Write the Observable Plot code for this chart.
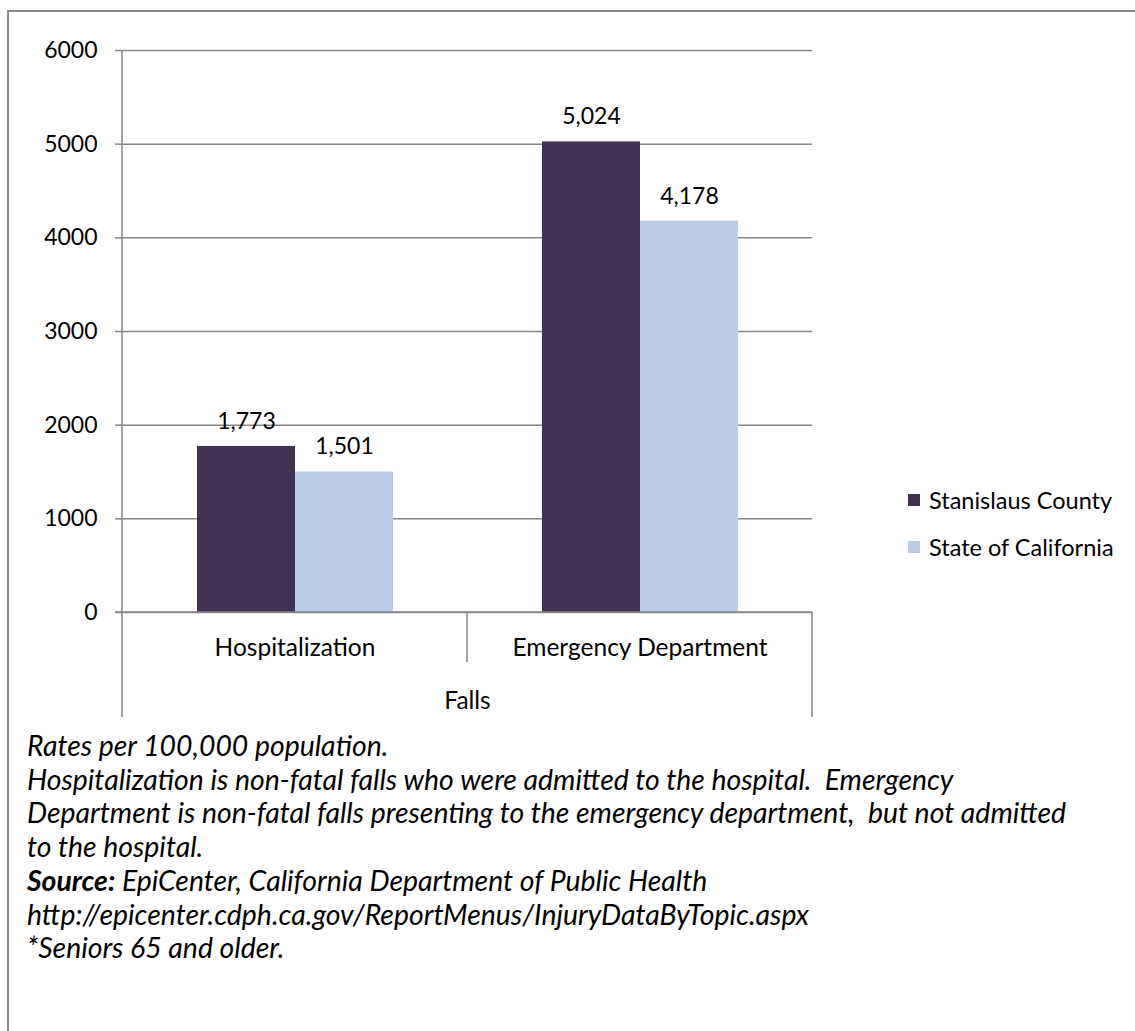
<!DOCTYPE html>
<html>
<head>
<meta charset="utf-8">
<script src="https://cdn.jsdelivr.net/npm/d3@7"></script>
<script src="https://cdn.jsdelivr.net/npm/@observablehq/plot@0.6"></script>
<style>
  html, body { margin: 0; padding: 0; background: #fff; }
  body { font-family: Lato, "Open Sans", sans-serif; }
  #page { position: relative; width: 1135px; height: 1031px; overflow: hidden; }
  #border { position: absolute; left: 7px; top: 10px; width: 1140px; height: 1040px;
            border-left: 2px solid #8a8a8a; border-top: 2px solid #8a8a8a; }
  #chart { position: absolute; left: 0; top: 0; }
  #legend { position: absolute; left: 908px; top: 485px; font-size: 23.5px; color: #000; }
  #legend .item { display: flex; align-items: center; height: 30px; margin-bottom: 17px; }
  #legend .sw { width: 12px; height: 12px; margin-right: 9px; }
  #caption { position: absolute; left: 27px; top: 729px; font-size: 28.4px; font-style: italic;
             line-height: 33.7px; color: #000; white-space: nowrap; }
</style>
</head>
<body>
<div id="page">
  <div id="border"></div>
  <div id="chart"></div>
  <div id="legend"></div>
  <div id="caption"></div>
</div>
<script>
const categories = ["Hospitalization", "Emergency Department"];
const series = ["Stanislaus County", "State of California"];
const stanislausValues = [1773, 5024];
const californiaValues = [1501, 4178];
const seriesColors = ["#403151", "#b9cde5"];
const yTicks = [0, 1000, 2000, 3000, 4000, 5000, 6000];
const groupLabel = "Falls";
const captionLines = [
  "Rates per 100,000 population.",
  "Hospitalization is non-fatal falls who were admitted to the hospital.&nbsp; Emergency",
  "Department is non-fatal falls presenting to the emergency department,&nbsp; but not admitted",
  "to the hospital.",
  "<b>Source:</b> EpiCenter, California Department of Public Health",
  "http://epicenter.cdph.ca.gov/ReportMenus/InjuryDataByTopic.aspx",
  "*Seniors 65 and older."
];

const data = [];
categories.forEach((c, i) => {
  data.push({category: c, series: series[0], value: stanislausValues[i]});
  data.push({category: c, series: series[1], value: californiaValues[i]});
});

const gridColor = "#868686";
const fontFamily = "Lato, 'Open Sans', sans-serif";

const chart = Plot.plot({
  width: 1135,
  height: 730,
  marginLeft: 122,
  marginRight: 323,
  marginTop: 50,
  marginBottom: 118,
  style: {fontFamily, fontSize: "23px", color: "#000", background: "transparent", overflow: "visible"},
  fx: {domain: categories, padding: 0},
  x: {domain: series, paddingInner: 0, paddingOuter: 0.75, axis: null},
  y: {domain: [0, 6000]},
  color: {domain: series, range: seriesColors},
  marks: [
    Plot.ruleY(yTicks, {stroke: gridColor, strokeWidth: 1.5}),
    Plot.barY(data, {fx: "category", x: "series", y: "value", fill: "series"}),
    Plot.text(data, {fx: "category", x: "series", y: "value",
      text: d => d3.format(",")(d.value), dy: -25, fontSize: 23, fill: "#000"}),
    Plot.axisY({ticks: yTicks, tickSize: 7, tickPadding: 18, tickFormat: d => String(d),
      stroke: gridColor, strokeWidth: 1.5, fill: "#000", fontSize: 23, label: null}),
    Plot.axisFx({anchor: "bottom", tickSize: 0, tickPadding: 26, fontSize: 24.5, fill: "#000",
      label: groupLabel, labelAnchor: "center", labelOffset: 96})
  ]
});
document.getElementById("chart").appendChild(chart);

// Category axis divider lines and the value axis line, positioned via Plot's scales
const fx = chart.scale("fx");
const y = chart.scale("y");
const svg = d3.select(chart.tagName.toLowerCase() === "svg" ? chart : chart.querySelector("svg"));
const y0 = y.apply(0), yTop = y.apply(6000);
const step = (fx.range[1] - fx.range[0]) / categories.length;
const g = svg.append("g").attr("stroke", gridColor).attr("stroke-width", 1.5);
g.append("line").attr("x1", fx.range[0]).attr("x2", fx.range[0]).attr("y1", yTop).attr("y2", y0 + 105);
g.append("line").attr("x1", fx.range[0] - 7).attr("x2", fx.range[1]).attr("y1", y0).attr("y2", y0);
for (let i = 1; i <= categories.length; i++) {
  const xx = fx.range[0] + i * step;
  const outer = i === categories.length;
  g.append("line").attr("x1", xx).attr("x2", xx).attr("y1", y0).attr("y2", y0 + (outer ? 105 : 50));
}

// Legend
const legend = d3.select("#legend");
series.forEach((s, i) => {
  const it = legend.append("div").attr("class", "item");
  it.append("div").attr("class", "sw").style("background", seriesColors[i]);
  it.append("span").text(s);
});

// Caption
d3.select("#caption").html(captionLines.join("<br>"));
</script>
</body>
</html>
